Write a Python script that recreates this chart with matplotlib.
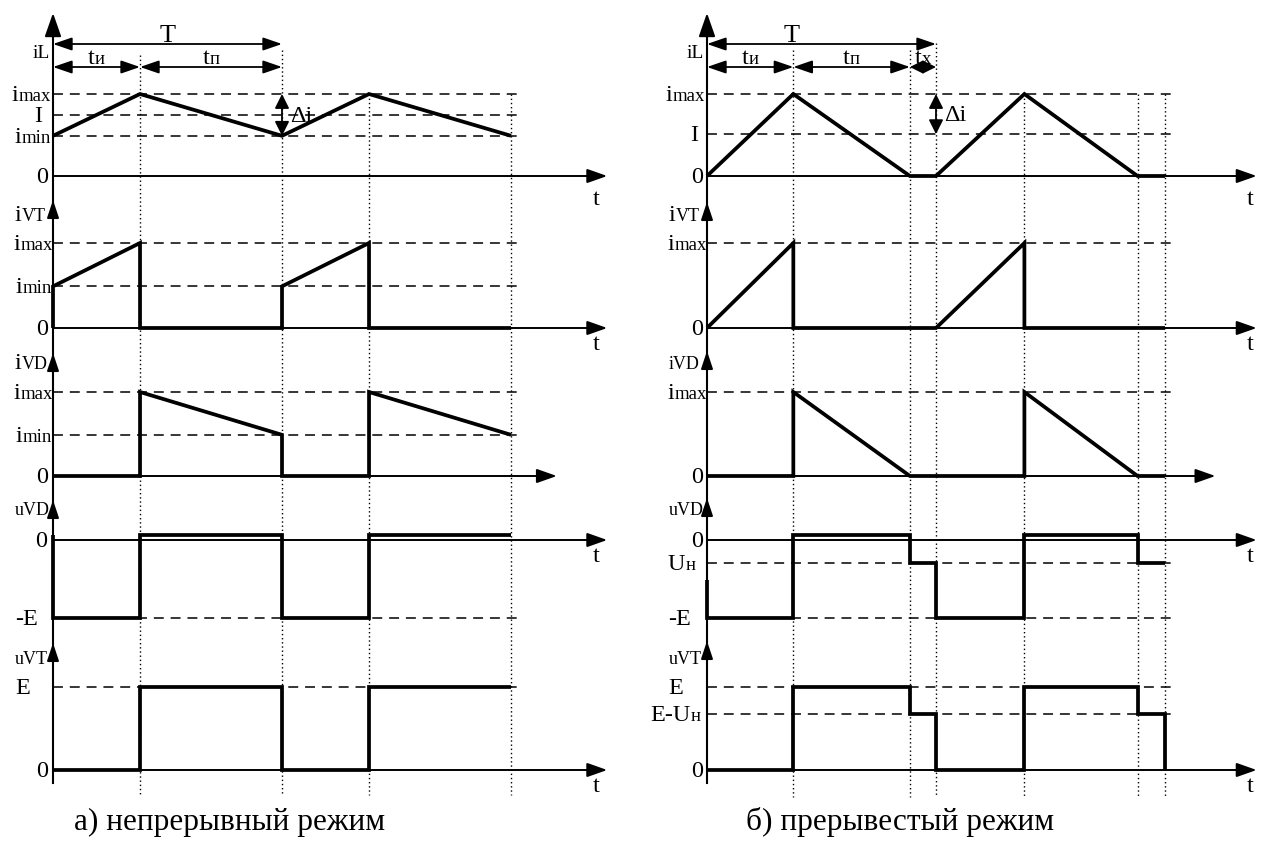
import matplotlib
matplotlib.use('Agg')
import matplotlib.pyplot as plt
import matplotlib.transforms as mtransforms

# ---------------- data (time in units of the period T, currents in i_max, voltages in E) -------------
# a) continuous mode
a_imin = 0.49
a_I = 0.74
a_iL_t = [0.0, 0.38, 1.0, 1.38, 2.0]
a_iL_v = [0.49, 1.0, 0.49, 1.0, 0.49]
a_iVT_t = [0.0, 0.0, 0.38, 0.38, 1.0, 1.0, 1.38, 1.38, 2.0]
a_iVT_v = [0.0, 0.49, 1.0, 0.0, 0.0, 0.49, 1.0, 0.0, 0.0]
a_iVD_t = [0.0, 0.38, 0.38, 1.0, 1.0, 1.38, 1.38, 2.0]
a_iVD_v = [0.0, 0.0, 1.0, 0.49, 0.0, 0.0, 1.0, 0.49]
a_uVD_t = [0.0, 0.0, 0.38, 0.38, 1.0, 1.0, 1.38, 1.38, 2.0]
a_uVD_v = [0.06, -1.0, -1.0, 0.06, 0.06, -1.0, -1.0, 0.06, 0.06]
a_uVT_t = [0.0, 0.38, 0.38, 1.0, 1.0, 1.38, 1.38, 2.0]
a_uVT_v = [0.0, 0.0, 1.0, 1.0, 0.0, 0.0, 1.0, 1.0]
a_marks = [0.38, 1.0, 1.38, 2.0]

# b) discontinuous mode
b_I = 0.51
b_Un = -0.29
b_EUn = 0.67
b_iL_t = [0.0, 0.377, 0.886, 1.0, 1.386, 1.88, 2.0]
b_iL_v = [0.0, 1.0, 0.0, 0.0, 1.0, 0.0, 0.0]
b_iVT_t = [0.0, 0.377, 0.377, 1.0, 1.386, 1.386, 2.0]
b_iVT_v = [0.0, 1.0, 0.0, 0.0, 1.0, 0.0, 0.0]
b_iVD_t = [0.0, 0.377, 0.377, 0.886, 1.386, 1.386, 1.88, 2.0]
b_iVD_v = [0.0, 0.0, 1.0, 0.0, 0.0, 1.0, 0.0, 0.0]
b_uVD_t = [0.0, 0.0, 0.377, 0.377, 0.886, 0.886, 1.0, 1.0, 1.386, 1.386, 1.88, 1.88, 2.0]
b_uVD_v = [-0.51, -1.0, -1.0, 0.06, 0.06, -0.29, -0.29, -1.0, -1.0, 0.06, 0.06, -0.29, -0.29]
b_uVT_t = [0.0, 0.377, 0.377, 0.886, 0.886, 1.0, 1.0, 1.386, 1.386, 1.88, 1.88, 2.0, 2.0]
b_uVT_v = [0.0, 0.0, 1.0, 1.0, 0.67, 0.67, 0.0, 0.0, 1.0, 1.0, 0.67, 0.67, 0.0]
b_marks = [0.377, 0.886, 1.0, 1.386, 1.88, 2.0]

caption_a = "а) непрерывный режим"
caption_b = "б) прерывестый режим"

# ---------------- layout ----------------
W, H, DPI = 1261, 847, 100
SX = 229.0                      # pixels per period
ROW_Y0 = [176, 328, 476, 540, 770]
ROW_SY = [82, 85, 84, 78, 83]
BIG, MID, SMALL = 17.5, 13.5, 13

plt.rcParams['font.family'] = ['Liberation Serif', 'DejaVu Serif']
fig = plt.figure(figsize=(W / DPI, H / DPI), dpi=DPI)
fig.patch.set_facecolor('white')
base = fig.add_axes([0, 0, 1, 1])
base.set_xlim(0, W)
base.set_ylim(H, 0)
base.axis('off')
renderer = fig.canvas.get_renderer()


def wave_axes(x0, y0, sy):
    ax = fig.add_axes([0, 0, 1, 1])
    ax.set_xlim(-x0 / SX, (W - x0) / SX)
    ax.set_ylim(-(H - y0) / sy, y0 / sy)
    ax.axis('off')
    ax.patch.set_alpha(0)
    return ax


def rich(ax, x, y, parts, ha='right', dx=0.0, dy=0.0, tr=None):
    tr = tr if tr is not None else ax.transData
    objs = [ax.text(x, y, s, fontsize=fs, ha='left', va='baseline', transform=tr, clip_on=False)
            for s, fs in parts]
    ws = [o.get_window_extent(renderer).width for o in objs]
    total = sum(ws)
    cur = {'left': 0.0, 'right': -total, 'center': -total / 2}[ha] + dx
    for o, w in zip(objs, ws):
        o.set_transform(tr + mtransforms.ScaledTranslation(cur / DPI, -dy / DPI, fig.dpi_scale_trans))
        cur += w


def arrow(ax, p0, p1, hl, hw, lw=1.3, style='-|>', coords='data'):
    k = 72.0 / DPI
    ax.annotate('', xy=p1, xytext=p0, xycoords=coords, textcoords=coords,
                arrowprops=dict(arrowstyle=f'{style},head_length={hl * k:.2f},head_width={hw * k:.2f}',
                                lw=lw, color='black', shrinkA=0, shrinkB=0, mutation_scale=1),
                annotation_clip=False)


IMAX = [('i', BIG), ('max', MID)]
IMIN = [('i', BIG), ('min', MID)]
ZERO = [('0', BIG)]

panels = [
    dict(x0=53, marks=a_marks, mark_tops=[55, 50, 94, 94], mark_bottom=795,
         rows=[
             dict(t=a_iL_t, v=a_iL_v, dashed=[1.0, a_I, a_imin], end=2.42,
                  levels=[(1.0, IMAX, 'right', -2), (a_I, [('I', BIG)], 'right', -11),
                          (a_imin, IMIN, 'right', -2), (0.0, ZERO, 'right', -5)],
                  tlabel=29),
             dict(t=a_iVT_t, v=a_iVT_v, dashed=[1.0, a_imin], end=2.42,
                  levels=[(1.0, IMAX, 'right', 0), (a_imin, IMIN, 'right', -1), (0.0, ZERO, 'right', -5)],
                  tlabel=22, title=[('i', BIG), ('VT', SMALL)], title_y=215, tip=200),
             dict(t=a_iVD_t, v=a_iVD_v, dashed=[1.0, a_imin], end=2.2,
                  levels=[(1.0, IMAX, 'right', 0), (a_imin, IMIN, 'right', -1), (0.0, ZERO, 'right', -5)],
                  tlabel=None, title=[('i', BIG), ('VD', SMALL)], title_y=363, tip=353),
             dict(t=a_uVD_t, v=a_uVD_v, dashed=[-1.0], end=2.42,
                  levels=[(0.0, ZERO, 'right', -6), (-1.0, [('-E', BIG)], 'left', -38)],
                  tlabel=22, title=[('uVD', SMALL)], title_y=509, tip=500),
             dict(t=a_uVT_t, v=a_uVT_v, dashed=[1.0], end=2.42,
                  levels=[(1.0, [('E', BIG)], 'left', -38), (0.0, ZERO, 'right', -5)],
                  tlabel=22, title=[('uVT', SMALL)], title_y=658, tip=643),
         ],
         spans=[(0.0, 0.38, [('t', BIG), ('и', MID)]), (0.38, 1.0, [('t', BIG), ('п', MID)])],
         T_label_x=168, di=(1.0, 1.0, a_imin),
         caption=caption_a, caption_x=230),
    dict(x0=707, marks=b_marks, mark_tops=[50, 50, 43, 94, 94, 94], mark_bottom=797,
         rows=[
             dict(t=b_iL_t, v=b_iL_v, dashed=[1.0, b_I], end=2.40,
                  levels=[(1.0, IMAX, 'right', -2), (b_I, [('I', BIG)], 'right', -9), (0.0, ZERO, 'right', -4)],
                  tlabel=29),
             dict(t=b_iVT_t, v=b_iVT_v, dashed=[1.0], end=2.40,
                  levels=[(1.0, IMAX, 'right', 0), (0.0, ZERO, 'right', -4)],
                  tlabel=22, title=[('i', BIG), ('VT', SMALL)], title_y=215, tip=202),
             dict(t=b_iVD_t, v=b_iVD_v, dashed=[1.0], end=2.22,
                  levels=[(1.0, IMAX, 'right', 0), (0.0, ZERO, 'right', -4)],
                  tlabel=None, title=[('iVD', SMALL)], title_y=363, tip=351),
             dict(t=b_uVD_t, v=b_uVD_v, dashed=[b_Un, -1.0], end=2.40,
                  levels=[(0.0, ZERO, 'right', -4), (b_Un, [('U', BIG), ('н', MID)], 'left', -39),
                          (-1.0, [('-E', BIG)], 'left', -39)],
                  tlabel=22, title=[('uVD', SMALL)], title_y=509, tip=498),
             dict(t=b_uVT_t, v=b_uVT_v, dashed=[1.0, b_EUn], end=2.40,
                  levels=[(1.0, [('E', BIG)], 'left', -39), (b_EUn, [('E-U', BIG), ('н', MID)], 'right', -6),
                          (0.0, ZERO, 'right', -4)],
                  tlabel=22, title=[('uVT', SMALL)], title_y=658, tip=641),
         ],
         spans=[(0.0, 0.377, [('t', BIG), ('и', MID)]), (0.377, 0.886, [('t', BIG), ('п', MID)]),
                (0.886, 1.0, [('t', BIG), ('x', MID)])],
         T_label_x=792, di=(1.0, 1.0, b_I),
         caption=caption_b, caption_x=900),
]

DASHED_END = 2.04
for P in panels:
    x0 = P['x0']
    axes = []
    for r, R in enumerate(P['rows']):
        ax = wave_axes(x0, ROW_Y0[r], ROW_SY[r])
        axes.append(ax)
        # time axis
        arrow(ax, (0.0, 0.0), (R['end'], 0.0), 17, 6, lw=1.4)
        # dashed reference levels
        for lv in R['dashed']:
            ax.plot([0.0, DASHED_END], [lv, lv], color='black', lw=1.1,
                    linestyle=(0, (6.5, 4.5)), zorder=2)
        # waveform
        ax.plot(R['t'], R['v'], color='black', lw=2.7, solid_joinstyle='miter',
                solid_capstyle='butt', zorder=4)
        # level labels
        for lv, parts, ha, dx in R['levels']:
            rich(ax, 0.0, lv, parts, ha=ha, dx=dx, dy=7)
        if R['tlabel'] is not None:
            rich(base, x0 + 2.37 * SX, ROW_Y0[r] + R['tlabel'], [('t', BIG)], ha='center', dy=0,
                 tr=base.transData)
        if 'title' in R:
            rich(base, x0 - 38, R['title_y'] + 6, R['title'], ha='left', tr=base.transData)
            arrow(base, (x0, R['tip'] + 16), (x0, R['tip']), 15, 5, lw=1.4)

    ax0 = axes[0]
    bt = mtransforms.blended_transform_factory(ax0.transData, base.transData)
    # vertical axis
    base.plot([x0, x0], [40, 783], color='black', lw=1.5, zorder=3)
    arrow(base, (x0, 40), (x0, 13), 20, 7, lw=1.5)
    rich(base, x0 - 3, 58, [('iL', 14)], ha='right', tr=base.transData)
    # dotted time markers
    for tm, top in zip(P['marks'], P['mark_tops']):
        ax0.plot([tm, tm], [top, P['mark_bottom']], transform=bt, color='black', lw=1.0,
                 linestyle=(0, (1, 2)), zorder=1)
    # period arrow
    arrow(ax0, (0.0, 44), (1.0, 44), 16, 5.5, lw=1.3, style='<|-|>', coords=bt)
    rich(base, P['T_label_x'], 42, [('T', 19)], ha='center', tr=base.transData)
    for (ta, tb_, parts) in P['spans']:
        arrow(ax0, (ta, 67), (tb_, 67), 16 if tb_ - ta > 0.2 else 11, 5.5, lw=1.3, style='<|-|>', coords=bt)
        rich(ax0, (ta + tb_) / 2, 64, parts, ha='center', tr=bt)
    # delta i
    dx_t, y1, y2 = P['di']
    arrow(ax0, (dx_t, y1), (dx_t, y2), 12, 6, lw=1.3, style='<|-|>')
    rich(ax0, dx_t, (y1 + y2) / 2, [('Δi', BIG)], ha='left', dx=8, dy=7)
    # caption
    rich(base, P['caption_x'], 830, [(P['caption'], 22.5)], ha='center', tr=base.transData)

fig.savefig('out.png', dpi=DPI, facecolor='white')
